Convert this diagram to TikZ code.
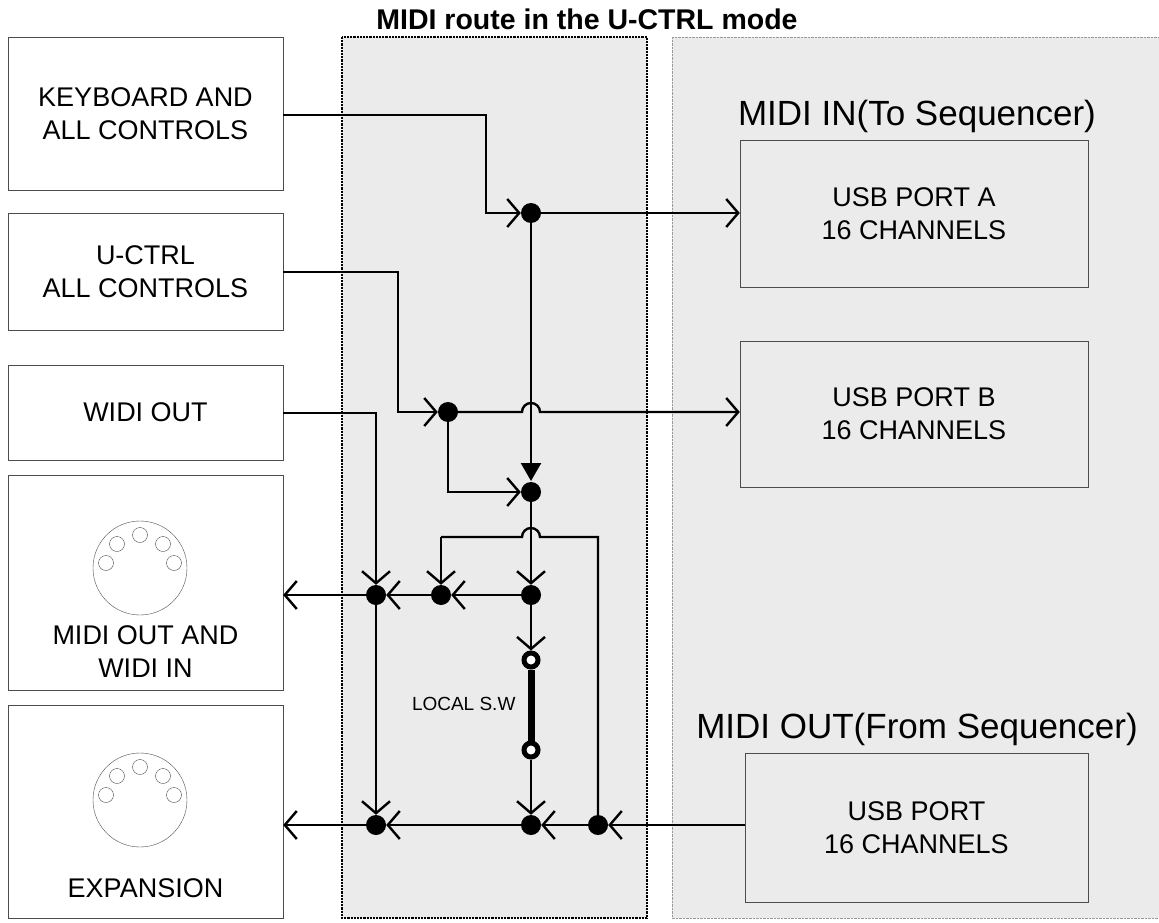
\documentclass[tikz,border=0pt]{standalone}
\usepackage{fontspec}
\setmainfont{Liberation Sans}
\usetikzlibrary{arrows.meta}
\tikzset{
  box/.style = {draw=black!70, fill=white, align=center, font=\fontsize{27}{33}\selectfont},
  usb/.style = {draw=black!70, align=center, font=\fontsize{27}{33}\selectfont},
  dot/.style = {circle, fill, inner sep=0pt, minimum size=20pt},
  sw/.style = {circle, draw, line width=5pt, fill=white, inner sep=0pt, minimum size=14pt},
  sig/.style = {line width=2.4pt},
  feed/.style = {sig, -{Straight Barb[length=12pt,width=28pt,line width=2.4pt]}},
  hdr/.style = {font=\fontsize{35}{40}\selectfont},
}
\begin{document}
\begin{tikzpicture}[x=1pt, y=-1pt]
\useasboundingbox (0,0) rectangle (1159,923);
% background areas
\fill[black!8] (672,37) rectangle (1159,918);
\draw[black!40, densely dotted] (672,37) rectangle (1159,918);
\fill[black!8] (342,37) rectangle (647,918);
\draw[line width=2.2pt, densely dotted] (342,37) rectangle (647,918);
\node[font=\bfseries\fontsize{28.5}{32}\selectfont] at (587,19) {MIDI route in the U-CTRL mode};
% left boxes
\node[box, minimum width=275pt, minimum height=153pt] (kbd) at (145.5,113.5) {KEYBOARD AND\\ALL CONTROLS};
\node[box, minimum width=275pt, minimum height=117pt] (uctrl) at (145.5,271.5) {U-CTRL\\ALL CONTROLS};
\node[box, minimum width=275pt, minimum height=95pt] (widi) at (145.5,412.5) {WIDI OUT};
\node[box, minimum width=275pt, minimum height=215pt] (mout) at (145.5,582.5) {};
\node[box, minimum width=275pt, minimum height=213pt] (exp) at (145.5,811.5) {};
\node[font=\fontsize{27}{33}\selectfont, align=center] at (145.5,652) {MIDI OUT AND\\WIDI IN};
\node[font=\fontsize{27}{33}\selectfont] at (145.5,888) {EXPANSION};
% DIN sockets
\foreach \cy in {568,800} {
  \draw[black!70] (140,\cy) circle (47);
  \foreach \dx/\dy in {0/-33, -23/-24, 23/-24, -34/-5, 34/-5}
    \draw[black!70] (140+\dx,\cy+\dy) circle (7.5);
}
% right side
\node[hdr] at (917,116) {MIDI IN(To Sequencer)};
\node[hdr] at (917,729) {MIDI OUT(From Sequencer)};
\node[usb, minimum width=348pt, minimum height=147pt] (porta) at (914,213.5) {USB PORT A\\16 CHANNELS};
\node[usb, minimum width=348pt, minimum height=146pt] (portb) at (914,414) {USB PORT B\\16 CHANNELS};
\node[usb, minimum width=343pt, minimum height=149pt] (port) at (916.5,827.5) {USB PORT\\16 CHANNELS};
% junctions
\node[dot] (ja) at (531,213) {};
\node[dot] (jb) at (448,412) {};
\node[dot] (jm) at (531,492) {};
\node[dot] (jc) at (531,595) {};
\node[dot] (jl) at (441,595) {};
\node[dot] (jw) at (376,595) {};
\node[dot] (jx) at (376,825) {};
\node[dot] (jy) at (531,825) {};
\node[dot] (jz) at (598,825) {};
\node[sw] (s1) at (531,660) {};
\node[sw] (s2) at (531,750) {};
\node[font=\fontsize{19}{22}\selectfont, anchor=east] at (519,704) {LOCAL S.W};
% connectors
\draw[feed] (kbd.east |- 0,115) -| (486,213) -- (ja);
\draw[feed] (ja) -- (porta.west |- ja);
\draw[sig, -{Triangle[length=18pt,width=20pt]}] (ja) -- (531,481);
\draw[feed] (uctrl.east |- 0,272) -| (398,412) -- (jb);
\draw[feed] (jb) -- (522,412) arc (180:360:9) -- (portb.west |- jb);
\draw[feed] (jb) |- (jm);
\draw[sig] (jz) -- (598,537) -- (540,537) arc (0:-180:9) -- (441,537) coordinate (lt);
\draw[feed] (lt) -- (jl);
\draw[feed] (widi.east |- 0,413) -| (jw);
\draw[feed] (jw) -- (jx);
\draw[feed] (jm) -- (jc);
\draw[feed] (jc) -- (jl);
\draw[feed] (jl) -- (jw);
\draw[feed] (jw) -- (mout.east |- jw);
\draw[feed] (jc) -- (s1);
\draw[line width=7pt] (s1) -- (s2);
\draw[feed] (s2) -- (jy);
\draw[feed] (port.west |- jz) -- (jz);
\draw[feed] (jz) -- (jy);
\draw[feed] (jy) -- (jx);
\draw[feed] (jx) -- (exp.east |- jx);
\end{tikzpicture}
\end{document}
